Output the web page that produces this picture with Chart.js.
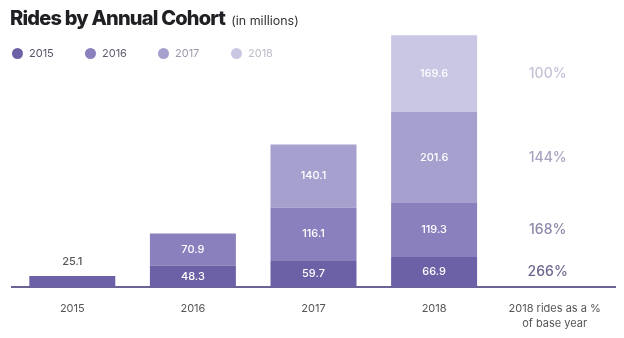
<!DOCTYPE html>
<html>
<head>
<meta charset="utf-8">
<script src="https://cdn.jsdelivr.net/npm/chart.js@4.4.0/dist/chart.umd.min.js"></script>
<style>
  html, body { margin: 0; padding: 0; background: #fff; }
  #wrap { position: relative; width: 624px; height: 338px; overflow: hidden; font-family: 'Inter', sans-serif; }
  #title { position: absolute; left: 10px; top: 6px; white-space: nowrap; color: #1f1f24; }
  #title b { font-size: 20px; font-weight: 800; letter-spacing: -0.8px; }
  #title span { font-size: 12.5px; color: #333; margin-left: 6px; }
  #legend { position: absolute; left: 12px; top: 46px; display: flex; }
  #legend div { width: 73px; font-size: 11px; display: flex; align-items: center; }
  #legend i { display: inline-block; width: 11px; height: 11px; border-radius: 50%; margin-right: 6px; }
  canvas { position: absolute; left: 0; top: 0; }
</style>
</head>
<body>
<div id="wrap">
  <canvas id="chart" width="624" height="353"></canvas>
  <div id="title"><b>Rides by Annual Cohort</b><span>(in millions)</span></div>
  <div id="legend"></div>
</div>
<script>
// categories on the x axis
const categories = ['2015', '2016', '2017', '2018', ['2018 rides as a %', 'of base year']];
const cohorts = ['2015', '2016', '2017', '2018'];

// rides per cohort, by year
const cohort2015 = [25.1, 48.3, 59.7, 66.9];
const cohort2016 = [null, 70.9, 116.1, 119.3];
const cohort2017 = [null, null, 140.1, 201.6];
const cohort2018 = [null, null, null, 169.6];

// 2018 rides as a % of base year, per cohort
const pctOfBase = ['266%', '168%', '144%', '100%'];

const barColors = ['#6c61a7', '#8a80bd', '#a5a0cd', '#c9c7e3'];
const legendText = ['#55536a', '#5f5d70', '#9a98ab', '#bdbccb'];
const pctColors = ['#6e6890', '#8d88a9', '#a7a3bf', '#c3c1d6'];

// legend (html)
const legendEl = document.getElementById('legend');
cohorts.forEach((c, i) => {
    const d = document.createElement('div');
    d.innerHTML = '<i style="background:' + barColors[i] + '"></i><span style="color:' + legendText[i] + '">' + c + '</span>';
    legendEl.appendChild(d);
});

const series = [cohort2015, cohort2016, cohort2017, cohort2018];

// last category repeats the 2018 column so the percent labels line up with it
const datasets = series.map((vals, i) => ({
    label: cohorts[i],
    data: vals.concat([vals[3]]),
    backgroundColor: categories.map((c, j) => j === 4 ? 'rgba(0,0,0,0)' : barColors[i]),
    borderWidth: 0,
    barPercentage: 0.713,
    categoryPercentage: 1
}));

// draws the numbers on the bars and the percent column
const labelPlugin = {
    id: 'barLabels',
    afterDatasetsDraw(chart) {
        const ctx = chart.ctx;
        ctx.save();
        ctx.textAlign = 'center';
        ctx.textBaseline = 'middle';
        chart.data.datasets.forEach((ds, i) => {
            const meta = chart.getDatasetMeta(i);
            meta.data.forEach((bar, j) => {
                const v = ds.data[j];
                if (v == null) return;
                const cy = (bar.y + bar.base) / 2;
                if (j === 4) {
                    ctx.font = '500 14px Inter, sans-serif';
                    ctx.fillStyle = pctColors[i];
                    ctx.fillText(pctOfBase[i], bar.x - 7, cy);
                } else if (j === 0) {
                    ctx.font = '500 11px Inter, sans-serif';
                    ctx.fillStyle = '#555';
                    ctx.fillText(v.toFixed(1), bar.x, bar.y - 14);
                } else {
                    ctx.font = '500 11px Inter, sans-serif';
                    ctx.fillStyle = '#ffffff';
                    ctx.fillText(v.toFixed(1), bar.x, cy);
                }
            });
        });
        ctx.restore();
    }
};

new Chart(document.getElementById('chart'), {
    type: 'bar',
    data: { labels: categories, datasets: datasets },
    options: {
        responsive: false,
        animation: false,
        layout: { padding: { top: 10, left: 12, right: 9, bottom: 8 } },
        plugins: {
            legend: { display: false },
            tooltip: { enabled: false }
        },
        scales: {
            x: {
                stacked: true,
                grid: { display: false, drawTicks: false },
                border: { display: true, color: '#6a6494', width: 2 },
                ticks: {
                    color: '#555',
                    padding: 14,
                    font: { family: 'Inter', size: 11, lineHeight: 1.35 },
                    maxRotation: 0
                }
            },
            y: {
                stacked: true,
                display: false,
                min: 0,
                max: 613
            }
        }
    },
    plugins: [labelPlugin]
});
</script>
</body>
</html>
